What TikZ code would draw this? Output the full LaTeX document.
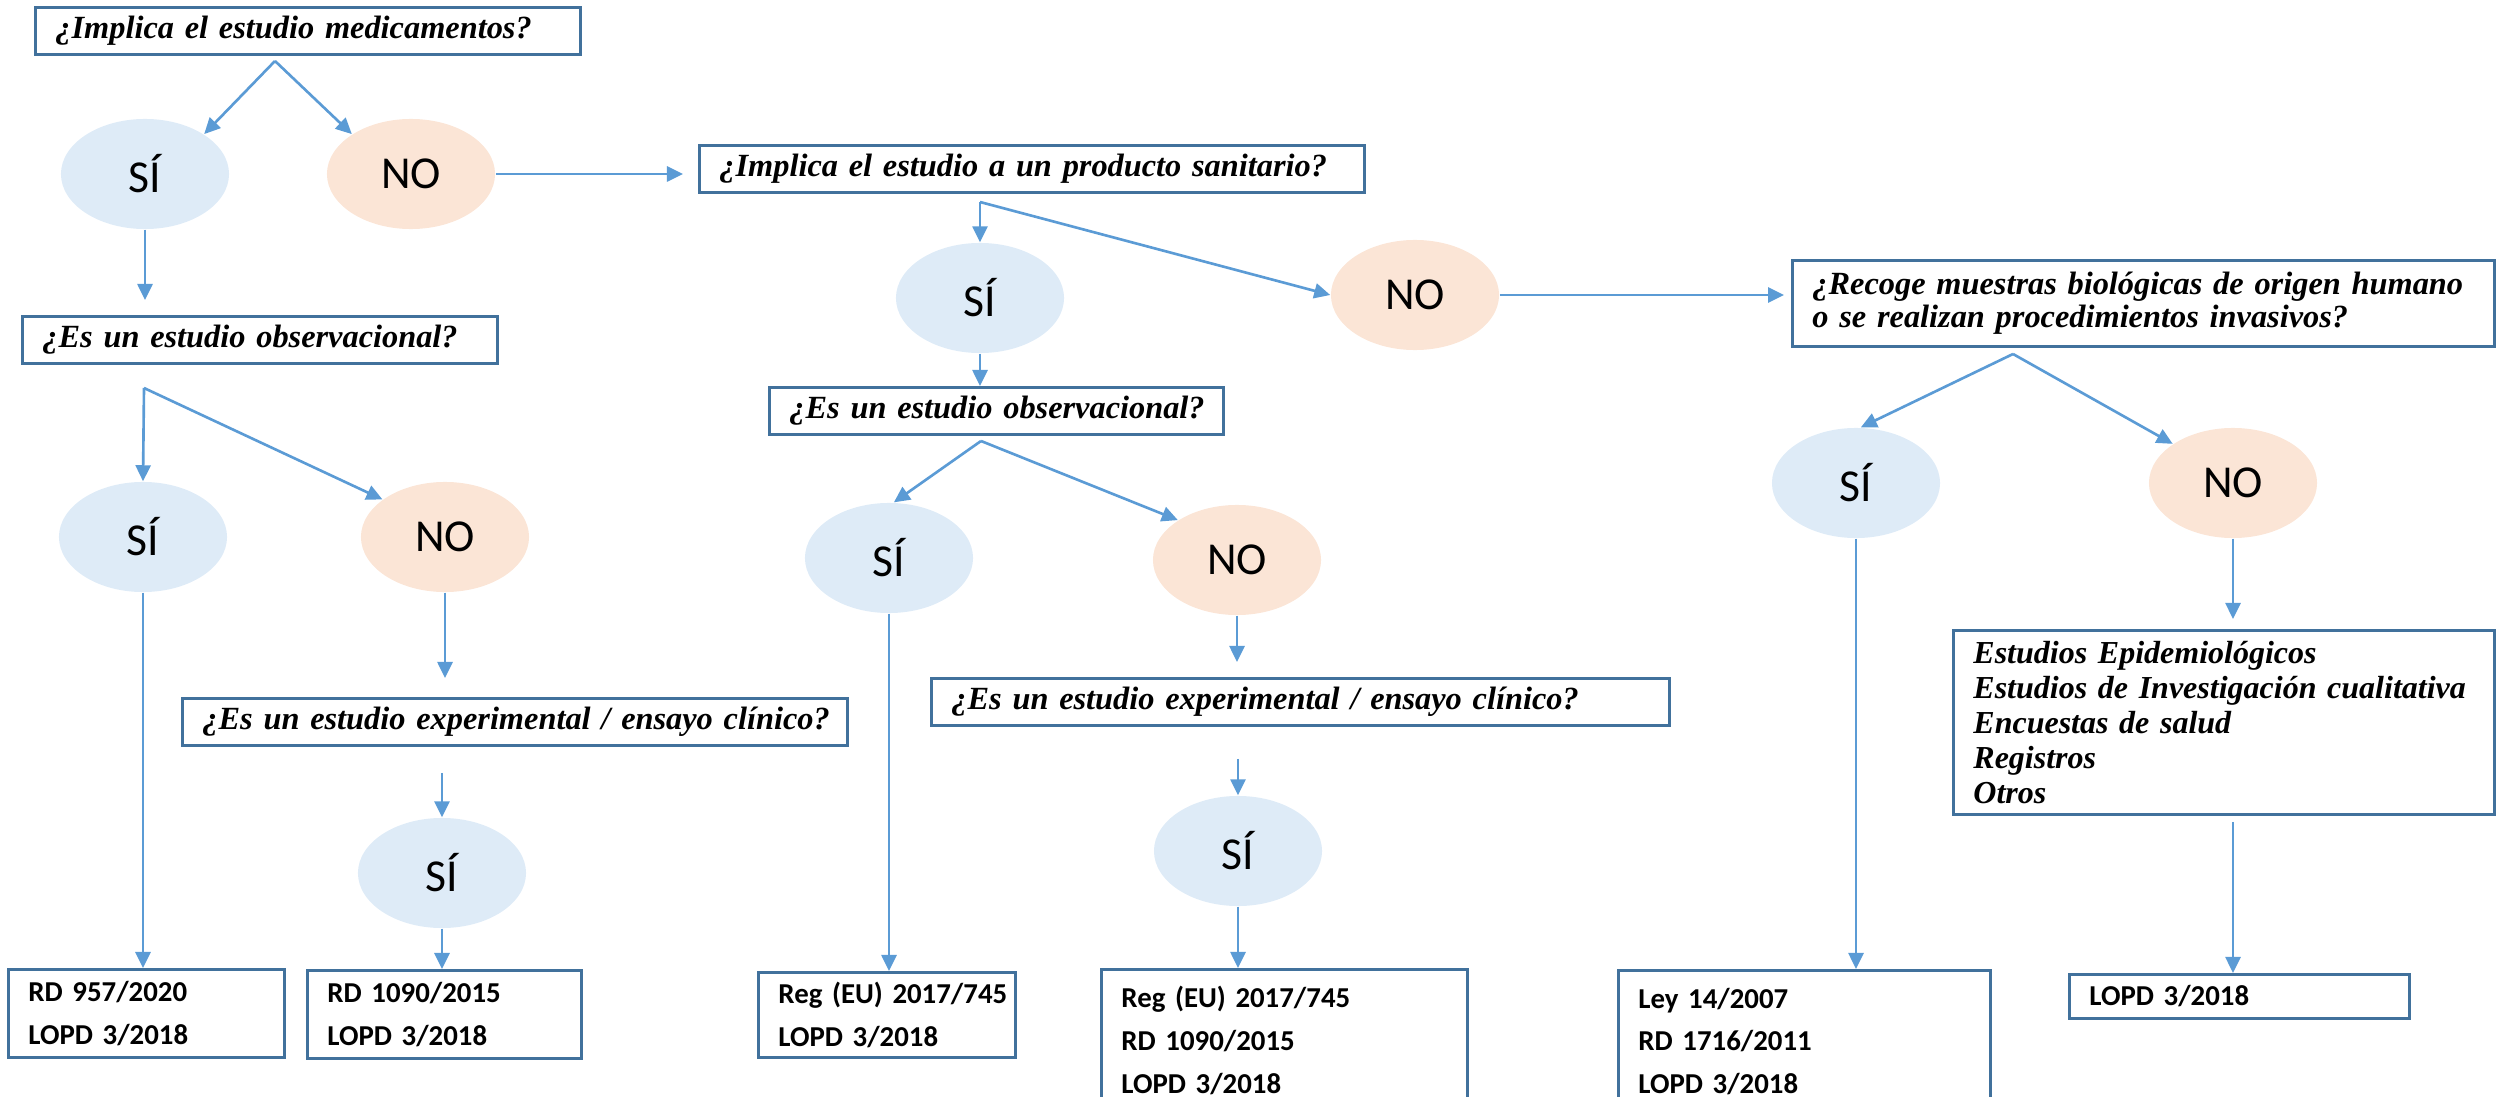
\documentclass[tikz,border=0pt]{standalone}
\usepackage{fontspec}
\setmainfont{Liberation Serif}
\newfontfamily\carlito{Carlito}
\usetikzlibrary{arrows.meta,shapes.geometric}
\definecolor{linea}{HTML}{5B9BD5}
\definecolor{borde}{HTML}{41719C}
\definecolor{sicol}{HTML}{DEEBF7}
\definecolor{nocol}{HTML}{FBE5D6}

\begin{document}
\begin{tikzpicture}
	[x=0.01cm,y=-0.01cm,
	 pregunta/.style={draw=borde, line width=0.8pt, anchor=north west, inner xsep=0.2cm, inner ysep=0pt, align=left, font=\fontsize{9.2}{9.5}\selectfont\bfseries\itshape},
	 ley/.style={draw=borde, line width=0.8pt, anchor=north west, inner xsep=0.2cm, inner ysep=0pt, align=left, font=\carlito\bfseries\fontsize{8.2}{12.2}\selectfont},
	 sinodo/.style={ellipse, fill=sicol, minimum width=1.68cm, minimum height=1.1cm, inner sep=0pt, font=\carlito\fontsize{13}{13}\selectfont},
	 nonodo/.style={sinodo, fill=nocol},
	 arr/.style={draw=linea, line width=0.75pt, -{Triangle[length=0.16cm,width=0.15cm]}}]
	\useasboundingbox (0,0) rectangle (2496,1097);

	\node[pregunta, text width=5.05cm, minimum height=0.47cm] (q1) at (34,6) {\mbox{¿Implica el estudio medicamentos?}};
	\node[pregunta, text width=6.25cm, minimum height=0.47cm] (q2) at (698,144) {\mbox{¿Implica el estudio a un producto sanitario?}};
	\node[pregunta, text width=6.62cm, minimum height=0.86cm] (q3) at (1791,259) {¿Recoge muestras biológicas de origen humano\\o se realizan procedimientos invasivos?};
	\node[pregunta, text width=4.35cm, minimum height=0.47cm] (o1) at (21,315) {\mbox{¿Es un estudio observacional?}};
	\node[pregunta, text width=4.14cm, minimum height=0.47cm] (o2) at (768,386) {\mbox{¿Es un estudio observacional?}};
	\node[pregunta, text width=6.25cm, minimum height=0.47cm] (e1) at (181,697) {\mbox{¿Es un estudio experimental / ensayo clínico?}};
	\node[pregunta, text width=6.98cm, minimum height=0.47cm] (e2) at (930,677) {\mbox{¿Es un estudio experimental / ensayo clínico?}};
	\node[pregunta, text width=5.01cm, minimum height=1.84cm, font=\fontsize{9.1}{9.9}\selectfont\bfseries\itshape] (ep) at (1952,629)
		{Estudios Epidemiológicos\\Estudios de Investigación cualitativa\\Encuestas de salud\\Registros\\Otros};

	\node[sinodo] (s1) at (145,174) {SÍ};
	\node[nonodo] (n1) at (411,174) {NO};
	\node[sinodo] (s2) at (980,298) {SÍ};
	\node[nonodo] (n2) at (1415,295) {NO};
	\node[sinodo] (s3) at (1856,483) {SÍ};
	\node[nonodo] (n3) at (2233,483) {NO};
	\node[sinodo] (s4) at (143,537) {SÍ};
	\node[nonodo] (n4) at (445,537) {NO};
	\node[sinodo] (s5) at (889,558) {SÍ};
	\node[nonodo] (n5) at (1237,560) {NO};
	\node[sinodo] (s6) at (442,873) {SÍ};
	\node[sinodo] (s7) at (1238,851) {SÍ};

	\node[ley, text width=2.36cm, minimum height=0.88cm] (l1) at (7,968) {RD 957/2020\\LOPD 3/2018};
	\node[ley, text width=2.34cm, minimum height=0.88cm] (l2) at (306,969) {RD 1090/2015\\LOPD 3/2018};
	\node[ley, text width=2.17cm, minimum height=0.85cm] (l3) at (757,971) {Reg~(EU)~2017/745\\LOPD 3/2018};
	\node[ley, text width=3.26cm, minimum height=1.42cm] (l4) at (1100,968) {Reg (EU) 2017/745\\RD 1090/2015\\LOPD 3/2018};
	\node[ley, text width=3.32cm, minimum height=1.42cm] (l5) at (1617,969) {Ley 14/2007\\RD 1716/2011\\LOPD 3/2018};
	\node[ley, text width=3.00cm, minimum height=0.44cm] (l6) at (2068,973) {LOPD 3/2018};

	\coordinate (b1) at (275,61);
	\coordinate (b2) at (980,202);
	\coordinate (b3) at (144,388);
	\coordinate (b4) at (981,441);
	\coordinate (b5) at (2013,354);

	\foreach \from/\to in {b1/s1.34,b1/n1.146,b2/s2.north,b2/n2.west,b3/s4.north,b3/n4.149,b4/s5.85,b4/n5.146,b5/s3.85,b5/n3.147}
		\draw[arr] (\from) -- (\to);
	\foreach \from/\to in {s2/o2,s4/l1,s6/l2,s5/l3,s7/l4,s3/l5}
		\draw[arr] (\from.south) -- (\from.south |- \to.north);
	\draw[arr,shorten >=0.15cm] (s1.south) -- (s1.south |- o1.north);
	\draw[arr,shorten >=0.15cm] (n1.east) -- (n1.east -| q2.west);
	\draw[arr,shorten >=0.07cm] (n2.east) -- (n2.east -| q3.west);
	\draw[arr,shorten >=0.19cm] (n4.south) -- (n4.south |- e1.north);
	\draw[arr,shorten <=0.26cm] (s6.north |- e1.south) -- (s6.north);
	\draw[arr,shorten >=0.15cm] (n5.south) -- (n5.south |- e2.north);
	\draw[arr,shorten <=0.32cm] (s7.north |- e2.south) -- (s7.north);
	\draw[arr,shorten >=0.1cm] (n3.south) -- (n3.south |- ep.north);
	\draw[arr,shorten <=0.06cm] (n3.south |- ep.south) -- (n3.south |- l6.north);
\end{tikzpicture}
\end{document}
